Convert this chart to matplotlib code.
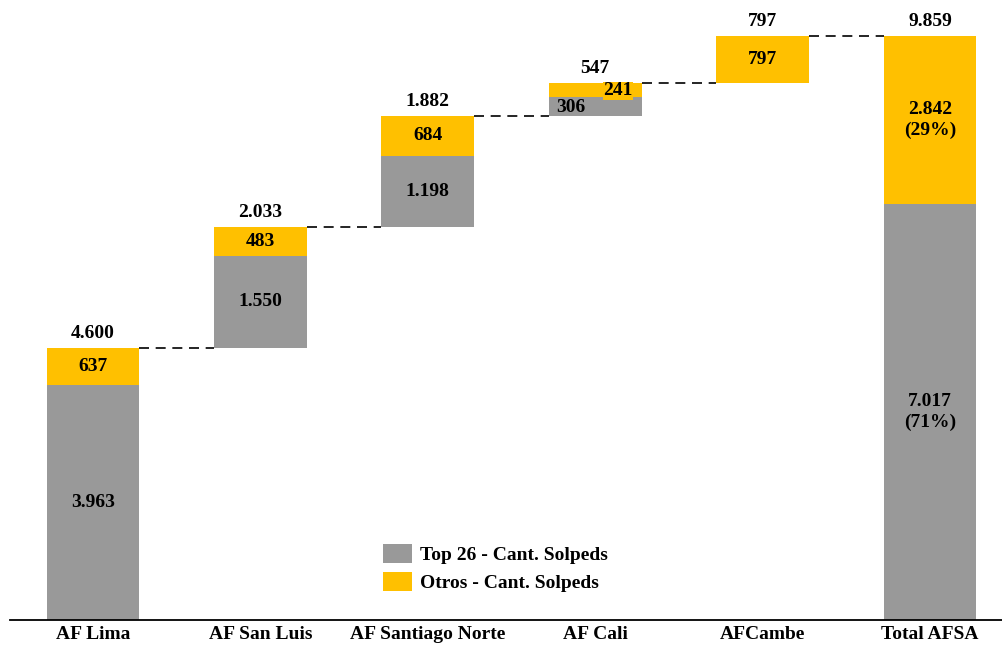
import matplotlib.pyplot as plt

plt.rcParams['font.family'] = ['Liberation Serif', 'DejaVu Serif']
plt.rcParams['font.weight'] = 'bold'

# solped counts per site
sites = ["AF Lima", "AF San Luis", "AF Santiago Norte", "AF Cali", "AFCambe", "Total AFSA"]
top26 = [3963, 1550, 1198, 306, 0, 7017]
otros = [637, 483, 684, 241, 797, 2842]
totals = [4600, 2033, 1882, 547, 797, 9859]
share_top26 = "71%"
share_otros = "29%"

grey = "#999999"
yellow = "#FFC000"


def fmt(v):
    return f"{v:,}".replace(",", ".")


# waterfall bases: each site starts where the previous ended, total starts at 0
bases = []
run = 0
for t in totals[:-1]:
    bases.append(run)
    run += t
bases.append(0)

fig = plt.figure(figsize=(10.02, 6.46), dpi=100)
grand = totals[-1]
ax = fig.add_axes([10 / 1002, 26 / 646, 992 / 1002, 620 / 646])
ax.set_ylim(0, grand * 620 / 584)
ax.set_xlim(-0.496, 5.43)

x = list(range(len(sites)))
w = 0.555
ax.bar(x, top26, w, bottom=bases, color=grey, label="Top 26 - Cant. Solpeds")
ax.bar(x, otros, w, bottom=[b + t for b, t in zip(bases, top26)], color=yellow,
       label="Otros - Cant. Solpeds")

# dashed connectors between consecutive bar tops
for i in range(len(sites) - 1):
    level = bases[i] + totals[i]
    ax.plot([i + w / 2, i + 1 - w / 2], [level, level], color="black", lw=1.2,
            linestyle=(0, (6, 4)))

fs = 14
for i in range(len(sites)):
    b = bases[i]
    top = b + totals[i]
    ax.text(i, top + grand * 0.01, fmt(totals[i]), ha="center", va="bottom", fontsize=fs)
    if sites[i] == "AF Cali":
        ax.text(i - 0.143, b + top26[i] / 2 - 10, fmt(top26[i]), ha="center", va="center", fontsize=fs)
        ax.text(i + 0.135, b + top26[i] + otros[i] / 2 - 10, fmt(otros[i]), ha="center", va="center",
                fontsize=fs, bbox=dict(boxstyle="square,pad=0.03", fc=yellow, ec="none"))
    elif i == len(sites) - 1:
        ax.text(i, b + top26[i] / 2, f"{fmt(top26[i])}\n({share_top26})", ha="center", va="center",
                fontsize=fs, linespacing=1.3)
        ax.text(i, b + top26[i] + otros[i] / 2, f"{fmt(otros[i])}\n({share_otros})", ha="center",
                va="center", fontsize=fs, linespacing=1.3)
    else:
        if top26[i]:
            ax.text(i, b + top26[i] / 2, fmt(top26[i]), ha="center", va="center", fontsize=fs)
        ax.text(i, b + top26[i] + otros[i] / 2, fmt(otros[i]), ha="center", va="center", fontsize=fs)

for s in ["top", "right", "left"]:
    ax.spines[s].set_visible(False)
ax.spines["bottom"].set_linewidth(1.3)
ax.set_yticks([])
ax.set_xticks(x)
ax.set_xticklabels(sites, fontsize=fs)
ax.tick_params(axis="x", length=0, pad=4)

ax.legend(loc="upper left", bbox_to_anchor=(0.376, 0.122), frameon=False, fontsize=fs,
          handlelength=1.5, handleheight=1.12, labelspacing=0.4, handletextpad=0.4,
          borderpad=0, borderaxespad=0)

fig.savefig("out.png", dpi=100)
